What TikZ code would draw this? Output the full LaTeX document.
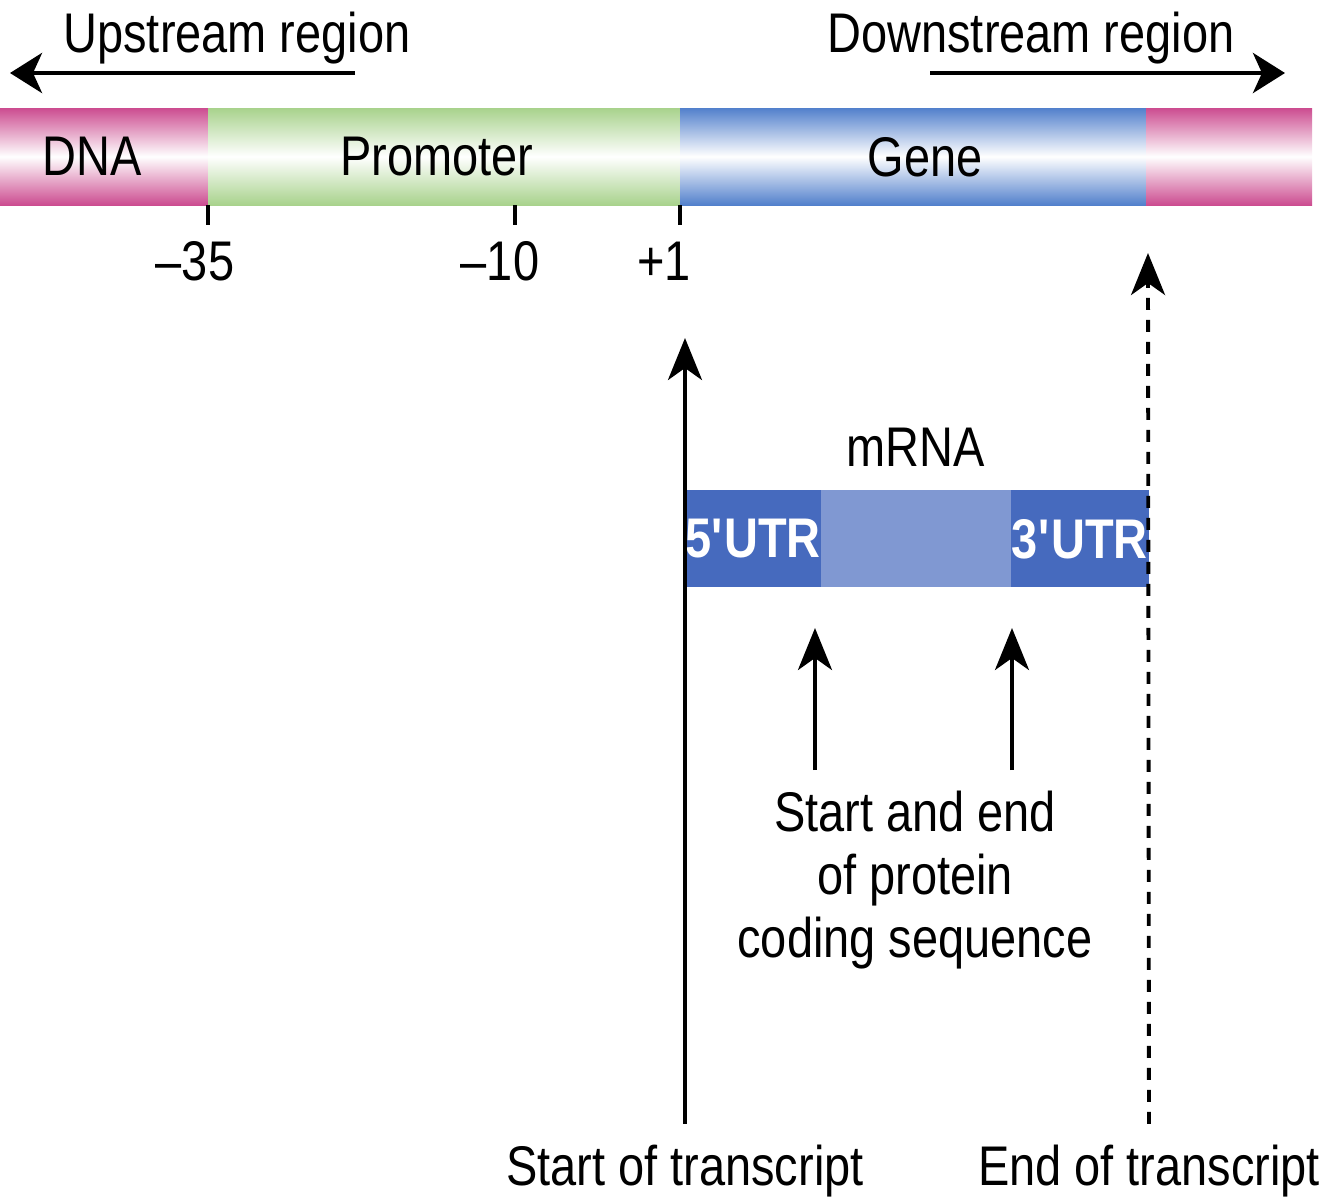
\documentclass[tikz,border=0pt]{standalone}
\usepackage{fontspec}
\setmainfont{Liberation Sans}[FakeStretch=0.84]
\usetikzlibrary{arrows.meta,positioning}
\definecolor{dnapink}{RGB}{204,76,144}
\definecolor{promgreen}{RGB}{168,210,140}
\definecolor{geneblue}{RGB}{82,128,204}
\definecolor{utrblue}{RGB}{70,106,190}
\definecolor{cdsblue}{RGB}{128,152,210}
\newcommand\diagfont{\fontsize{15.9pt}{17.9pt}\selectfont}
\tikzset{barpart/.style={
    % The shape:
    rectangle,
    % The size:
    minimum height=9.7mm,
    inner sep=0pt, outer sep=0pt,
    text depth=0pt,
    % The filling:
    top color=#1, bottom color=#1, middle color=white,
    % Font
    font=\diagfont,
    },
    rnapart/.style={
    rectangle,
    minimum height=9.7mm,
    inner sep=0pt, outer sep=0pt,
    text depth=0pt,
    fill=#1,
    font=\diagfont\bfseries,
    text=white,
    },
    lbl/.style={
    font=\diagfont,
    inner sep=0pt,
    },
    harr/.style={
    line width=1.3pt,
    -{Stealth[length=3.2mm,width=4mm,inset=0.9mm]},
    },
    varr/.style={
    line width=1.1pt,
    -{Stealth[length=4.2mm,width=3.4mm,inset=1.2mm]},
    },
    tick/.style={
    line width=0.9pt,
    },
}

\begin{document}
\begin{tikzpicture}[node distance = 0mm and 0mm]
    \useasboundingbox (0,0) rectangle (13.21,-12.00);

    % the DNA bar
    \node (dna)      [barpart=dnapink,minimum width=20.8mm,anchor=west] at (0,-1.565) {DNA\rule{2.4mm}{0pt}};
    \node (promoter) [barpart=promgreen,minimum width=47.2mm,right=of dna] {Promoter\rule{1.4mm}{0pt}};
    \node (gene)     [barpart=geneblue,minimum width=46.6mm,right=of promoter] {\rule{2.4mm}{0pt}Gene};
    \node (tail)     [barpart=dnapink,minimum width=16.6mm,right=of gene] {};

    % regions
    \node (upstream)   [lbl,anchor=base] at (2.37,-0.52) {Upstream region};
    \node (downstream) [lbl,anchor=base] at (10.31,-0.52) {Downstream region};
    \coordinate (upA) at (3.55,-0.73);
    \coordinate (upB) at (0.10,-0.73);
    \coordinate (downA) at (9.30,-0.73);
    \coordinate (downB) at (12.85,-0.73);
    \draw[harr] (upA) -- (upB);
    \draw[harr] (downA) -- (downB);

    % positions
    \coordinate (t35) at (dna.south east);
    \coordinate (t10) at (5.15,-2.05);
    \coordinate (t1)  at (promoter.south east);
    \draw[tick] (t35) -- ++(0,-0.2);
    \draw[tick] (t10) -- ++(0,-0.2);
    \draw[tick] (t1)  -- ++(0,-0.2);
    \node (m35) [lbl,anchor=base] at (1.95,-2.80) {\textendash35};
    \node (m10) [lbl,anchor=base] at (5.00,-2.80) {\textendash10};
    \node (p1)  [lbl,anchor=base] at (6.64,-2.80) {+1};

    % the mRNA
    \node (utr5) [rnapart=utrblue,minimum width=13.5mm,anchor=west] at (6.85,-5.385) {5\textquotesingle UTR};
    \node (cds)  [rnapart=cdsblue,minimum width=19mm,right=of utr5] {};
    \node (utr3) [rnapart=utrblue,minimum width=13.8mm,right=of cds] {3\textquotesingle UTR};
    \node (mrna) [lbl,above=2.3mm of cds] {mRNA};

    % coding sequence
    \node (coding) [lbl,align=center] at (9.15,-8.80) {Start and end\\of protein\\coding sequence};
    \coordinate (cdsA)    at (8.15,-7.70);
    \coordinate (cdsATip) at (8.15,-6.28);
    \coordinate (cdsB)    at (10.12,-7.70);
    \coordinate (cdsBTip) at (10.12,-6.28);
    \draw[varr] (cdsA) -- (cdsATip);
    \draw[varr] (cdsB) -- (cdsBTip);

    % the transcript
    \node (start) [lbl,anchor=base] at (6.85,-11.85) {Start of transcript};
    \node (end)   [lbl,anchor=base] at (11.49,-11.85) {End of transcript};
    \coordinate (startTip) at (6.85,-3.38);
    \coordinate (endTip)   at (11.48,-2.53);
    \draw[varr,shorten <=2mm] (start.north) -- (startTip);
    \draw[varr,dash pattern=on 1.2mm off 1mm,shorten <=2mm] (end.north) -- (endTip);
  \end{tikzpicture}
\end{document}
